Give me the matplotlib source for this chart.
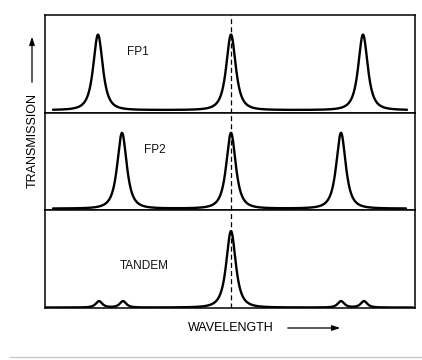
"""
Transmission of two Fabry-Perot etalons and of the tandem combination.
"""

import numpy as np
import matplotlib.pyplot as plt

plt.rcParams["font.family"] = ["Liberation Sans", "DejaVu Sans"]

# wavelength axis runs 0..370 (arbitrary units)
x_min, x_max = 0, 370

# peak centres, heights (fraction of panel) and widths
fp1_centres = [53, 186, 318]
fp1_heights = [0.77, 0.77, 0.77]
fp2_centres = [77, 186, 296]
fp2_heights = [0.78, 0.78, 0.78]
tandem_centres = [54, 78, 186, 296, 319]
tandem_heights = [0.065, 0.065, 0.78, 0.065, 0.065]
peak_width = 14.5
bump_width = 10

fp1_base = 0.03
fp2_base = 0.015
tandem_base = 0.005

panel_labels = ["FP1", "FP2", "TANDEM"]
label_pos = [(93, 0.62), (110, 0.62), (99, 0.43)]
curve_span = [(8, 362), (8, 361), (0, 368)]
centre_line = 186


def peak_sum(x, centres, heights, widths):
    y = np.zeros_like(x)
    for c, h, w in zip(centres, heights, widths):
        y += h / (1 + (2 * (x - c) / w) ** 2) ** 1.5
    return y


fig = plt.figure(figsize=(4.22, 3.60), dpi=100)

left = 45 / 422
width = 370 / 422
tops = [15, 113, 210]
bottoms = [113, 210, 308]

series = [
    (fp1_centres, fp1_heights, [peak_width] * 3, fp1_base),
    (fp2_centres, fp2_heights, [peak_width] * 3, fp2_base),
    (tandem_centres, tandem_heights,
     [bump_width, bump_width, peak_width, bump_width, bump_width], tandem_base),
]

for i in range(3):
    ax = fig.add_axes([left, 1 - bottoms[i] / 360, width,
                       (bottoms[i] - tops[i]) / 360])
    centres, heights, widths, base = series[i]
    x = np.linspace(curve_span[i][0], curve_span[i][1], 1500)
    y = base + peak_sum(x, centres, heights, widths)
    ax.plot(x, y, color="black", lw=1.7, solid_capstyle="round")
    ax.axvline(centre_line, color="black", lw=0.9, ls=(0, (4, 2.5)))
    ax.text(label_pos[i][0], label_pos[i][1], panel_labels[i],
            ha="center", va="center", fontsize=8.5, color="#111111")
    ax.set_xlim(x_min, x_max)
    ax.set_ylim(0, 1)
    ax.set_xticks([])
    ax.set_yticks([])
    for s in ax.spines.values():
        s.set_linewidth(1.1)

# axis captions with arrows
fig.text(231 / 422, 1 - 328 / 360, "WAVELENGTH", ha="center", va="center",
         fontsize=9)
fig.add_artist(plt.Annotation("", xy=(343 / 422, 1 - 328 / 360),
                              xytext=(285 / 422, 1 - 328 / 360),
                              xycoords="figure fraction",
                              arrowprops=dict(arrowstyle="-|>,head_length=0.6,head_width=0.2",
                                              lw=0.9, color="black",
                                              mutation_scale=8)))
fig.text(33 / 422, 1 - 141 / 360, "TRANSMISSION", ha="center", va="center",
         rotation=90, fontsize=9)
fig.add_artist(plt.Annotation("", xy=(32 / 422, 1 - 34 / 360),
                              xytext=(32 / 422, 1 - 85 / 360),
                              xycoords="figure fraction",
                              arrowprops=dict(arrowstyle="-|>,head_length=0.6,head_width=0.2",
                                              lw=0.9, color="black",
                                              mutation_scale=8)))

# faint rule under the figure
fig.add_artist(plt.Line2D([10 / 422, 1], [1 - 357 / 360] * 2,
                          color="#c8c8c8", lw=1))

plt.savefig("out.png", dpi=100)
